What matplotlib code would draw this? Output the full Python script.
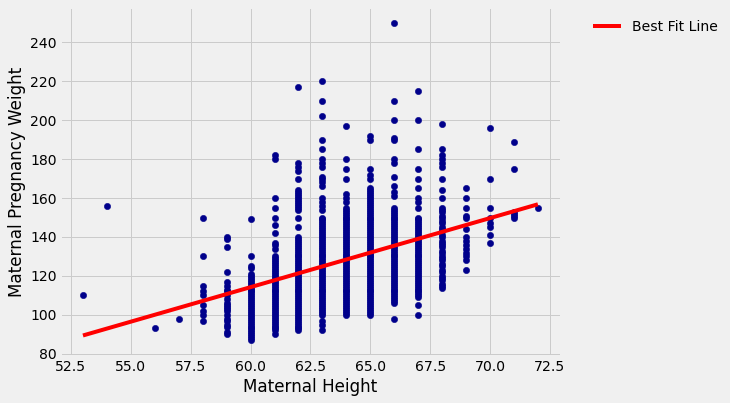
import numpy as np
import matplotlib
matplotlib.use('Agg')
import matplotlib.pyplot as plt

plt.style.use('fivethirtyeight')

w53 = [110]
w54 = [156]
w56 = [93]
w57 = [98]
w58 = [150, 130, 115, 112, 110, 105, 102, 100, 97]
w59 = [140, 139, 135, 122, 117, 115, 113, 112, 110, 108, 106, 105, 104, 103,
       102, 100, 98, 97, 95, 94, 91, 90]
w60 = [149, 130, 125, 124, 121, 120, 119, 118, 117, 116, 115, 114, 113, 112,
       111, 110, 109, 108, 107, 106, 105, 104, 103, 102, 101, 100, 99, 98,
       97, 96, 95, 94, 93, 92, 91, 90, 89, 88, 87]
w61 = [182, 180, 160, 155, 150, 146, 142, 137, 136, 134, 130, 129, 128, 127,
       126, 125, 124, 123, 122, 121, 120, 119, 118, 117, 116, 115, 114, 113,
       112, 111, 110, 109, 108, 107, 106, 105, 104, 103, 102, 101, 100, 99,
       98, 97, 96, 95, 94, 93, 92, 90]
w62 = [217, 178, 176, 174, 170, 164, 163, 162, 161, 160, 159, 158, 157, 156,
       155, 154, 150, 145, 140, 139, 138, 137, 136, 135, 134, 133, 132, 131,
       130, 129, 128, 127, 126, 125, 124, 123, 122, 121, 120, 119, 118, 117,
       116, 115, 114, 113, 112, 111, 110, 109, 108, 107, 106, 105, 104, 103,
       102, 101, 100, 99, 98, 97, 96, 95, 94, 93, 92]
w63 = [220, 210, 202, 190, 185, 180, 178, 176, 171, 170, 168, 166, 160, 158,
       156, 154, 150, 149, 148, 147, 146, 145, 144, 143, 142, 141, 140, 139,
       138, 137, 136, 135, 134, 133, 132, 131, 130, 129, 128, 127, 126, 125,
       124, 123, 122, 121, 120, 119, 118, 117, 116, 115, 114, 113, 112, 111,
       110, 109, 108, 107, 106, 105, 104, 103, 102, 101, 100, 97, 95, 92]
w64 = [197, 180, 175, 170, 162, 160, 158, 155, 154, 153, 152, 151, 150, 149,
       148, 147, 146, 145, 144, 143, 142, 141, 140, 139, 138, 137, 136, 135,
       134, 133, 132, 131, 130, 129, 128, 127, 126, 125, 124, 123, 122, 121,
       120, 119, 118, 117, 116, 115, 114, 113, 112, 111, 110, 109, 108, 107,
       106, 105, 104, 103, 102, 101, 100]
w65 = [192, 190, 175, 172, 170, 165, 164, 163, 162, 161, 160, 159, 158, 157,
       156, 155, 154, 153, 152, 151, 150, 149, 148, 147, 146, 145, 144, 143,
       142, 141, 140, 139, 138, 137, 136, 135, 134, 133, 132, 131, 130, 129,
       128, 127, 126, 125, 124, 123, 122, 121, 120, 119, 118, 117, 116, 115,
       114, 113, 112, 111, 110, 109, 108, 107, 106, 105, 104, 103, 102, 101,
       100]
w66 = [250, 210, 200, 191, 190, 180, 178, 171, 166, 163, 161, 155, 154, 153,
       152, 151, 150, 149, 148, 147, 146, 145, 144, 143, 142, 141, 140, 139,
       138, 137, 136, 135, 134, 133, 132, 131, 130, 129, 128, 127, 126, 125,
       124, 123, 122, 121, 120, 119, 118, 117, 116, 115, 114, 113, 112, 111,
       110, 109, 108, 107, 106, 98]
w67 = [215, 200, 185, 175, 170, 165, 160, 158, 155, 150, 149, 148, 147, 146,
       145, 144, 143, 142, 141, 140, 139, 138, 137, 136, 135, 134, 133, 132,
       131, 130, 129, 128, 127, 126, 125, 124, 123, 122, 121, 120, 119, 118,
       117, 116, 115, 114, 113, 112, 111, 110, 109, 105, 100]
w68 = [198, 185, 182, 180, 178, 176, 170, 164, 160, 155, 154, 153, 151, 150,
       148, 147, 145, 144, 143, 141, 140, 138, 137, 136, 135, 133, 132, 130,
       129, 128, 126, 125, 123, 122, 120, 119, 118, 116, 115, 114]
w69 = [165, 160, 155, 151, 150, 144, 140, 138, 136, 134, 132, 130, 128, 123]
w70 = [196, 170, 155, 150, 147, 145, 141, 137]
w71 = [189, 175, 153, 152, 151, 150]
w72 = [155]

heights = [53, 54, 56, 57, 58, 59, 60, 61, 62, 63, 64, 65, 66, 67, 68, 69, 70, 71, 72]
weights = [w53, w54, w56, w57, w58, w59, w60, w61, w62, w63, w64, w65, w66,
           w67, w68, w69, w70, w71, w72]

# best fit line, value at the two ends of the height range
fit_x = [53, 72]
fit_y = [89.4, 156.8]

x = []
y = []
for h, ws in zip(heights, weights):
    x += [h] * len(ws)
    y += ws

fig = plt.figure(figsize=(730 / 72, 403 / 72), dpi=72)
ax = fig.add_axes([0.0825, 0.1166, 0.6855, 0.866])
ax.scatter(x, y, color='darkblue', s=40, zorder=2)
ax.plot(fit_x, fit_y, color='red', lw=4, label='Best Fit Line', zorder=3)

ax.set_xlabel('Maternal Height')
ax.set_ylabel('Maternal Pregnancy Weight')
ax.legend(bbox_to_anchor=(1.04, 1), loc=2, frameon=False)

fig.savefig('out.png', dpi=72, facecolor=fig.get_facecolor())
